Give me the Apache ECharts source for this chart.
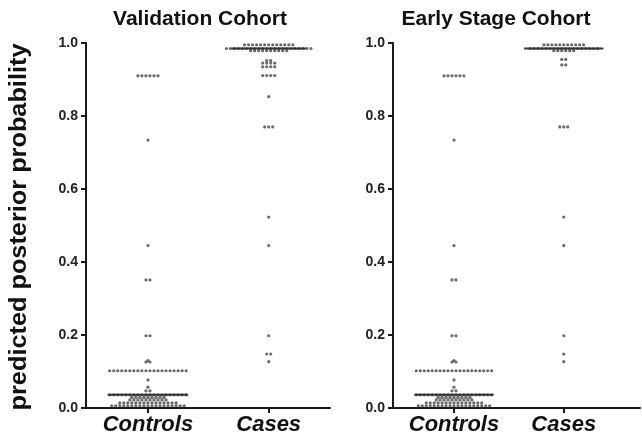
<!DOCTYPE html>
<html>
<head>
<meta charset="utf-8">
<script src="https://cdn.jsdelivr.net/npm/echarts@6/dist/echarts.min.js"></script>
<style>html,body{margin:0;padding:0;background:#fff}#c{width:642px;height:439px}</style>
</head>
<body>
<div id="c"></div>
<script>
const categories = ['Controls', 'Cases'];
const panelTitles = ['Validation Cohort', 'Early Stage Cohort'];
const yAxisTitle = 'predicted posterior probability';
const yTicks = [0, 0.2, 0.4, 0.6, 0.8, 1.0];

const validationControls = [
  0.91,0.91,0.91,0.91,0.91,0.91,
  0.734, 0.445, 0.351,0.351, 0.198,0.198,
  0.13,0.126,0.126,
  0.102,0.102,0.102,0.102,0.102,0.102,0.102,0.102,0.102,0.102,
  0.102,0.102,0.102,0.102,0.102,0.102,0.102,0.102,0.102,0.102,
  0.077, 0.057, 0.047,0.047,
  0.036,0.036,0.036,0.036,0.036,0.036,0.036,0.036,0.036,0.036,
  0.036,0.036,0.036,0.036,0.036,0.036,0.036,0.036,0.036,0.036,
  0.029,0.029,0.029,0.029,0.029,0.029,0.029,0.029,0.029,
  0.022,0.022,0.022,0.022,0.022,0.022,0.022,0.022,0.022,0.022,
  0.014,0.014,0.014,0.014,0.014,0.014,0.014,0.014,0.014,0.014,0.014,0.014,0.014,0.014,0.014,
  0.006,0.006,0.006,0.006,0.006,0.006,0.006,0.006,0.006,0.006,
  0.006,0.006,0.006,0.006,0.006,0.006,0.006,0.006,0.006
];
const validationCases = [
  0.995,0.995,0.995,0.995,0.995,0.995,0.995,0.995,0.995,0.995,0.995,0.995,0.995,
  0.985,0.985,0.985,0.985,0.985,0.985,0.985,0.985,0.985,0.985,0.985,
  0.985,0.985,0.985,0.985,0.985,0.985,0.985,0.985,0.985,0.985,0.985,
  0.979,0.979,0.979,0.979,0.979,0.979,0.979,0.979,0.979,0.979,
  0.952,0.952, 0.945,0.945,0.945,0.945, 0.935,0.935,0.935,0.935,
  0.911,0.911,0.911,0.911, 0.853, 0.77,0.77,0.77,
  0.523, 0.445, 0.198, 0.148,0.148, 0.127
];
const earlyStageControls = [
  0.91,0.91,0.91,0.91,0.91,0.91,
  0.734, 0.445, 0.351,0.351, 0.198,0.198,
  0.13,0.126,0.126,
  0.102,0.102,0.102,0.102,0.102,0.102,0.102,0.102,0.102,0.102,
  0.102,0.102,0.102,0.102,0.102,0.102,0.102,0.102,0.102,0.102,
  0.077, 0.057, 0.047,0.047,
  0.036,0.036,0.036,0.036,0.036,0.036,0.036,0.036,0.036,0.036,
  0.036,0.036,0.036,0.036,0.036,0.036,0.036,0.036,0.036,0.036,
  0.029,0.029,0.029,0.029,0.029,0.029,0.029,0.029,0.029,
  0.022,0.022,0.022,0.022,0.022,0.022,0.022,0.022,0.022,0.022,
  0.014,0.014,0.014,0.014,0.014,0.014,0.014,0.014,0.014,0.014,0.014,0.014,0.014,0.014,0.014,
  0.006,0.006,0.006,0.006,0.006,0.006,0.006,0.006,0.006,0.006,
  0.006,0.006,0.006,0.006,0.006,0.006,0.006,0.006,0.006
];
const earlyStageCases = [
  0.995,0.995,0.995,0.995,0.995,0.995,0.995,0.995,0.995,0.995,0.995,
  0.985,0.985,0.985,0.985,0.985,0.985,0.985,0.985,0.985,
  0.985,0.985,0.985,0.985,0.985,0.985,0.985,0.985,0.985,
  0.979,0.979,0.979,0.979,0.979,0.979,
  0.955,0.955, 0.94,0.94, 0.77,0.77,0.77,
  0.523, 0.445, 0.198, 0.148, 0.127
];

const FONT = "'Liberation Sans', Arial, sans-serif";
const panels = [
  { title: panelTitles[0], groups: [validationControls, validationCases], pos: [1, 2.95], max: 3.94,
    half: [0.65, 0.6], grid: { left: 86, right: 312, top: 43, bottom: 31 }, titleX: 200 },
  { title: panelTitles[1], groups: [earlyStageControls, earlyStageCases], pos: [1, 2.8], max: 4.05,
    half: [0.65, 0.65], grid: { left: 393, right: 2, top: 43, bottom: 31 }, titleX: 496 }
];
const STEP = 0.065;      // horizontal dot spacing (axis units)

function swarm(values, center) {
  const counts = new Map();
  values.forEach(v => counts.set(v, (counts.get(v) || 0) + 1));
  const seen = new Map();
  return values.map(v => {
    const n = counts.get(v);
    const i = seen.get(v) || 0;
    seen.set(v, i + 1);
    return [center + (i - (n - 1) / 2) * STEP, v];
  });
}
function median(values) {
  const s = values.slice().sort((a, b) => a - b);
  const m = Math.floor(s.length / 2);
  return s.length % 2 ? s[m] : (s[m - 1] + s[m]) / 2;
}

const grids = [], xAxes = [], yAxes = [], series = [], graphics = [];
panels.forEach((p, k) => {
  grids.push(p.grid);
  xAxes.push({
    type: 'value', gridIndex: k, min: 0, max: p.max,
    axisLine: { show: true, onZero: false, lineStyle: { color: '#1a1a1a', width: 2 } },
    axisTick: { show: true, customValues: p.pos, length: 5, lineStyle: { color: '#1a1a1a', width: 2 } },
    axisLabel: {
      customValues: p.pos, margin: 6,
      formatter: v => categories[p.pos.indexOf(v)] || '',
      fontFamily: FONT, fontWeight: 'bold', fontStyle: 'italic', fontSize: 22, color: '#111'
    },
    splitLine: { show: false }
  });
  yAxes.push({
    type: 'value', gridIndex: k, min: yTicks[0], max: yTicks[yTicks.length - 1], interval: 0.2,
    axisLine: { show: true, lineStyle: { color: '#1a1a1a', width: 2 } },
    axisTick: { show: true, length: 5, lineStyle: { color: '#1a1a1a', width: 2 } },
    axisLabel: { formatter: v => v.toFixed(1), margin: 8, fontFamily: FONT, fontWeight: 'bold', fontSize: 14, color: '#222' },
    splitLine: { show: false }
  });
  p.groups.forEach((vals, j) => {
    series.push({
      type: 'scatter', xAxisIndex: k, yAxisIndex: k, data: swarm(vals, p.pos[j]),
      symbolSize: 3.2, itemStyle: { color: '#444' }, silent: true, clip: false
    });
    const med = median(vals);
    series.push({
      type: 'line', xAxisIndex: k, yAxisIndex: k, symbol: 'none', silent: true,
      data: [[p.pos[j] - p.half[j], med], [p.pos[j] + p.half[j], med]],
      lineStyle: { color: '#333', width: 2 }
    });
  });
  graphics.push({
    type: 'text', x: p.titleX, y: 19,
    style: { text: p.title, font: 'bold 21px ' + FONT, fill: '#111', align: 'center', verticalAlign: 'middle' }
  });
});
graphics.push({
  type: 'text', x: 20, y: 227, rotation: Math.PI / 2, scaleX: 1.1,
  style: { text: yAxisTitle, font: 'bold 23px ' + FONT, fill: '#111', align: 'center', verticalAlign: 'middle' }
});

const chart = echarts.init(document.getElementById('c'));
chart.setOption({
  animation: false,
  backgroundColor: '#fff',
  grid: grids, xAxis: xAxes, yAxis: yAxes, series: series, graphic: graphics
});
</script>
</body>
</html>
